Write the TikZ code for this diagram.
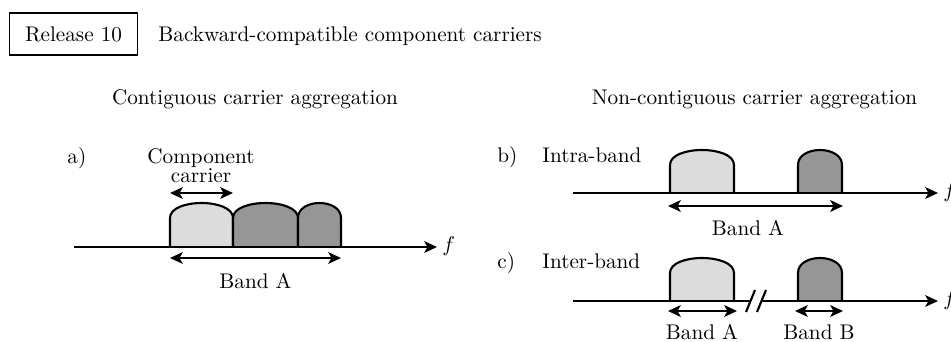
\documentclass[tikz,border=0pt]{standalone}
\usetikzlibrary{arrows.meta}
\definecolor{ccl}{HTML}{DCDCDC}
\definecolor{ccd}{HTML}{969696}
\begin{document}
\begin{tikzpicture}[x=0.4717pt,y=-0.4717pt,
  lab/.style={inner sep=0pt, anchor=base},
  tip/.style={Stealth[length=6pt,width=5.5pt,inset=1.5pt]},
  ax/.style={line width=1pt, -{Stealth[length=6pt,width=5.5pt,inset=1.5pt]}},
  dbl/.style={line width=1pt, {Stealth[length=6pt,width=5.5pt,inset=1.5pt]}-{Stealth[length=6pt,width=5.5pt,inset=1.5pt]}},
  cc/.style={line width=1pt, line join=round},
  ccL/.style={cc, fill=ccl},
  ccD/.style={cc, fill=ccd}]
\useasboundingbox (0,0) rectangle (951,341);

% header
\node[draw, line width=0.9pt, minimum width=60.4pt, minimum height=19.8pt, inner sep=0pt] (rel) at (73.5,34) {Release 10};
\node[lab, anchor=base west] (bcc) at (158,41) {Backward-compatible component carriers};
\node[lab] (cont) at (255,104) {Contiguous carrier aggregation};
\node[lab] (ncont) at (754.5,104) {Non-contiguous carrier aggregation};

% ---------- a) contiguous
\node[lab, anchor=base west] (la) at (67,163) {a)};
\node[lab] (comp1) at (201,163) {Component};
\node[lab] (comp2) at (201,182) {carrier};
\coordinate (ccL1) at (170,193);
\coordinate (ccR1) at (233,193);
\draw[dbl] (ccL1) -- (ccR1);

\draw[ccL] (170,247) -- (170,218) .. controls (170,198) and (233,198) .. (233,218) -- (233,247);
\draw[ccD] (233,247) -- (233,218) .. controls (233,198) and (298,198) .. (298,218) -- (298,247);
\draw[ccD] (298,247) -- (298,218) .. controls (298,198) and (341,198) .. (341,218) -- (341,247);

\coordinate (axaS) at (74,247);
\coordinate (axaE) at (437,247);
\draw[ax] (axaS) -- (axaE);
\node[lab, anchor=base west] (fa) at (442,251) {$f$};

\coordinate (baL) at (170,258);
\coordinate (baR) at (341,258);
\draw[dbl] (baL) -- (baR);
\node[lab] (bandaA) at (255.5,288) {Band A};

% ---------- b) intra-band
\node[lab, anchor=base west] (lb) at (497,162) {b)};
\node[lab, anchor=base west] (intra) at (542,162) {Intra-band};
\draw[ccL] (670,193) -- (670,165) .. controls (670,145) and (734,145) .. (734,165) -- (734,193);
\draw[ccD] (798,193) -- (798,165) .. controls (798,145) and (842,145) .. (842,165) -- (842,193);
\coordinate (axbS) at (573,193);
\coordinate (axbE) at (938,193);
\draw[ax] (axbS) -- (axbE);
\node[lab, anchor=base west] (fb) at (943,197) {$f$};
\coordinate (bbL) at (668,206);
\coordinate (bbR) at (843,206);
\draw[dbl] (bbL) -- (bbR);
\node[lab] (bandbA) at (748,235) {Band A};

% ---------- c) inter-band
\node[lab, anchor=base west] (lc) at (497,268) {c)};
\node[lab, anchor=base west] (inter) at (542,268) {Inter-band};
\draw[ccL] (670,301) -- (670,273) .. controls (670,253) and (734,253) .. (734,273) -- (734,301);
\draw[ccD] (798,301) -- (798,273) .. controls (798,253) and (842,253) .. (842,273) -- (842,301);
\coordinate (axcS) at (573,301);
\coordinate (axcM1) at (750,301);
\coordinate (axcM2) at (762,301);
\coordinate (axcE) at (938,301);
\draw[line width=1pt] (axcS) -- (axcM1);
\draw[ax] (axcM2) -- (axcE);
\draw[line width=1pt] (746,312) -- (755,290);
\draw[line width=1pt] (757,312) -- (766,290);
\node[lab, anchor=base west] (fc) at (943,305) {$f$};
\coordinate (bcaL) at (668,311);
\coordinate (bcaR) at (737,311);
\draw[dbl] (bcaL) -- (bcaR);
\coordinate (bcbL) at (795,311);
\coordinate (bcbR) at (843,311);
\draw[dbl] (bcbL) -- (bcbR);
\node[lab] (bandcA) at (702,339) {Band A};
\node[lab] (bandcB) at (819,339) {Band B};
\end{tikzpicture}
\end{document}
